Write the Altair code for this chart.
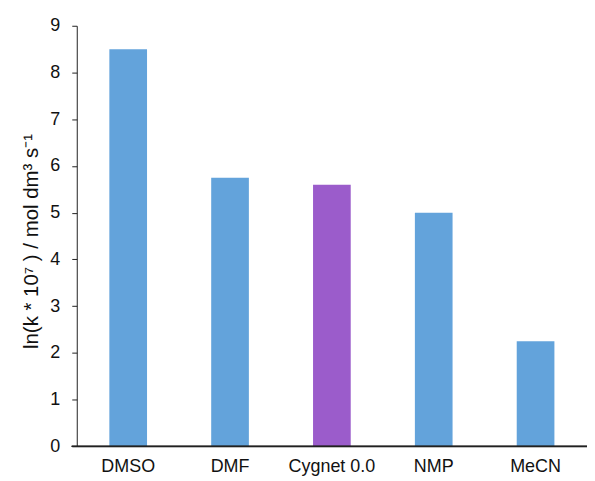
import altair as alt
import pandas as pd

categories = ["DMSO", "DMF", "Cygnet 0.0", "NMP", "MeCN"]
values = [8.5, 5.75, 5.6, 5.0, 2.25]
colors = ["#63a3db", "#63a3db", "#9b5ccb", "#63a3db", "#63a3db"]

df = pd.DataFrame({"cat": categories, "val": values, "col": colors})

FONT = "Liberation Sans"

bars = alt.Chart(df).mark_bar().encode(
    x=alt.X("cat:N", sort=categories,
            scale=alt.Scale(paddingInner=0.63, paddingOuter=0.32),
            axis=alt.Axis(title=None, labelAngle=0, domain=True, domainColor="#222",
                          ticks=False, labelPadding=11, labelFontSize=18,
                          labelFont=FONT, labelColor="#111")),
    y=alt.Y("val:Q", scale=alt.Scale(domain=[0, 9], nice=False),
            axis=alt.Axis(title="ln(k * 10⁷ ) / mol dm³ s⁻¹", values=list(range(10)),
                          grid=False, domainColor="#222", tickColor="#222",
                          tickSize=5, labelPadding=12, labelFontSize=18,
                          labelFont=FONT, labelColor="#111",
                          titleFont=FONT, titleFontSize=20.5, titleFontWeight="normal",
                          titleColor="#111", titlePadding=8, titleY=216)),
    color=alt.Color("col:N", scale=None),
)

extra = alt.Chart(df).mark_rule(color="#222").encode(
    x=alt.value(-5), x2=alt.value(512), y=alt.value(422)
)

chart = alt.layer(bars, extra).properties(
    width=512, height=422,
    autosize=alt.AutoSizeParams(type="none"),
    padding={"left": 69, "top": 17, "right": 0, "bottom": 40},
).configure_view(stroke=None)

chart.save("out.html", embed_options={"renderer": "svg", "actions": False})
